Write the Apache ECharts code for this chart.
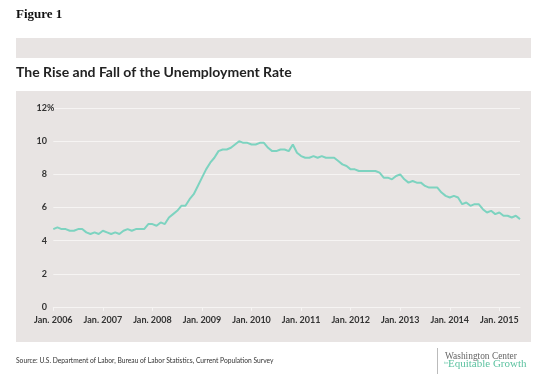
<!DOCTYPE html>
<html><head><meta charset="utf-8">
<script src="https://cdn.jsdelivr.net/npm/echarts@6/dist/echarts.min.js"></script>
<style>html,body{margin:0;padding:0;background:#fff}#c{width:540px;height:385px}</style>
</head><body><div id="c"></div>
<script>
var years = [2006, 2007, 2008, 2009, 2010, 2011, 2012, 2013, 2014, 2015];
var monthNames = ['Jan.', 'Feb.', 'Mar.', 'Apr.', 'May', 'Jun.', 'Jul.', 'Aug.', 'Sep.', 'Oct.', 'Nov.', 'Dec.'];
var yTicks = [0, 2, 4, 6, 8, 10, 12];
var rate = [
  4.7, 4.8, 4.7, 4.7, 4.6, 4.6, 4.7, 4.7, 4.5, 4.4, 4.5, 4.4,
  4.6, 4.5, 4.4, 4.5, 4.4, 4.6, 4.7, 4.6, 4.7, 4.7, 4.7, 5.0,
  5.0, 4.9, 5.1, 5.0, 5.4, 5.6, 5.8, 6.1, 6.1, 6.5, 6.8, 7.3,
  7.8, 8.3, 8.7, 9.0, 9.4, 9.5, 9.5, 9.6, 9.8, 10.0, 9.9, 9.9,
  9.8, 9.8, 9.9, 9.9, 9.6, 9.4, 9.4, 9.5, 9.5, 9.4, 9.8, 9.3,
  9.1, 9.0, 9.0, 9.1, 9.0, 9.1, 9.0, 9.0, 9.0, 8.8, 8.6, 8.5,
  8.3, 8.3, 8.2, 8.2, 8.2, 8.2, 8.2, 8.1, 7.8, 7.8, 7.7, 7.9,
  8.0, 7.7, 7.5, 7.6, 7.5, 7.5, 7.3, 7.2, 7.2, 7.2, 6.9, 6.7,
  6.6, 6.7, 6.6, 6.2, 6.3, 6.1, 6.2, 6.2, 5.9, 5.7, 5.8, 5.6,
  5.7, 5.5, 5.5, 5.4, 5.5, 5.3
];
var categories = [];
for (var i = 0; i < rate.length; i++) {
  categories.push(monthNames[i % 12] + ' ' + years[Math.floor(i / 12)]);
}
var chart = echarts.init(document.getElementById('c'), null, {renderer: 'canvas'});
var isJan = function (idx) { return idx % 12 === 0; };
chart.setOption({
  animation: false,
  backgroundColor: '#ffffff',
  graphic: [
    {type: 'text', left: 16, top: 8, style: {text: 'Figure 1', font: 'bold 13px "Liberation Serif", serif', fill: '#111'}},
    {type: 'rect', shape: {x: 16, y: 38, width: 515, height: 20}, style: {fill: '#e8e4e3'}, z: -10},
    {type: 'text', left: 16, top: 65, style: {text: 'The Rise and Fall of the Unemployment Rate', font: 'bold 14px Lato, sans-serif', fill: '#222'}},
    {type: 'rect', shape: {x: 16, y: 91, width: 515, height: 251}, style: {fill: '#e8e4e3'}, z: -10},
    {type: 'text', left: 16, top: 357, style: {text: 'Source: U.S. Department of Labor, Bureau of Labor Statistics, Current Population Survey', font: '6.7px Lato, sans-serif', fill: '#333'}},
    {type: 'rect', shape: {x: 437, y: 348, width: 0.8, height: 26}, style: {fill: '#aaa'}},
    {type: 'text', left: 445, top: 352, style: {text: 'Washington Center', font: '9.4px "Liberation Serif", serif', fill: '#666'}},
    {type: 'text', left: 444, top: 361, style: {text: 'for', font: '3.5px "Liberation Serif", serif', fill: '#5cc2a0'}},
    {type: 'text', left: 448, top: 359, style: {text: 'Equitable Growth', font: '11px "Liberation Serif", serif', fill: '#5cc2a0'}}
  ],
  grid: {left: 53.3, right: 20, top: 108, bottom: 78, containLabel: false},
  xAxis: {
    type: 'category',
    boundaryGap: false,
    data: categories,
    axisLine: {lineStyle: {color: '#f6f4f3', width: 1}},
    axisTick: {show: true, interval: function (idx) { return isJan(idx); }, length: 4, lineStyle: {color: '#f6f4f3'}},
    axisLabel: {
      interval: function (idx) { return isJan(idx); },
      formatter: function (v) { return v; },
      fontFamily: 'Lato', fontWeight: 'bold', fontSize: 9, color: '#333', margin: 9
    },
    splitLine: {show: false}
  },
  yAxis: {
    type: 'value',
    min: yTicks[0], max: yTicks[yTicks.length - 1], interval: 2,
    axisLine: {show: false},
    axisTick: {show: false},
    axisLabel: {
      fontFamily: 'Lato', fontWeight: 'bold', fontSize: 9, color: '#333', margin: -1,
      formatter: function (v) { return v === 12 ? '{n|12}{p|%}' : '{n|' + v + '}{h|%}'; },
      rich: {
        n: {fontFamily: 'Lato', fontWeight: 'bold', fontSize: 9, color: '#333'},
        p: {fontFamily: 'Lato', fontWeight: 'bold', fontSize: 9, color: '#333'},
        h: {fontFamily: 'Lato', fontWeight: 'bold', fontSize: 9, color: 'rgba(0,0,0,0)'}
      }
    },
    splitLine: {lineStyle: {color: '#f6f4f3', width: 1}}
  },
  series: [{
    type: 'line',
    data: rate,
    showSymbol: false,
    symbol: 'none',
    lineStyle: {color: '#7dd3c0', width: 2},
    itemStyle: {color: '#7dd3c0'}
  }]
});
</script></body></html>
